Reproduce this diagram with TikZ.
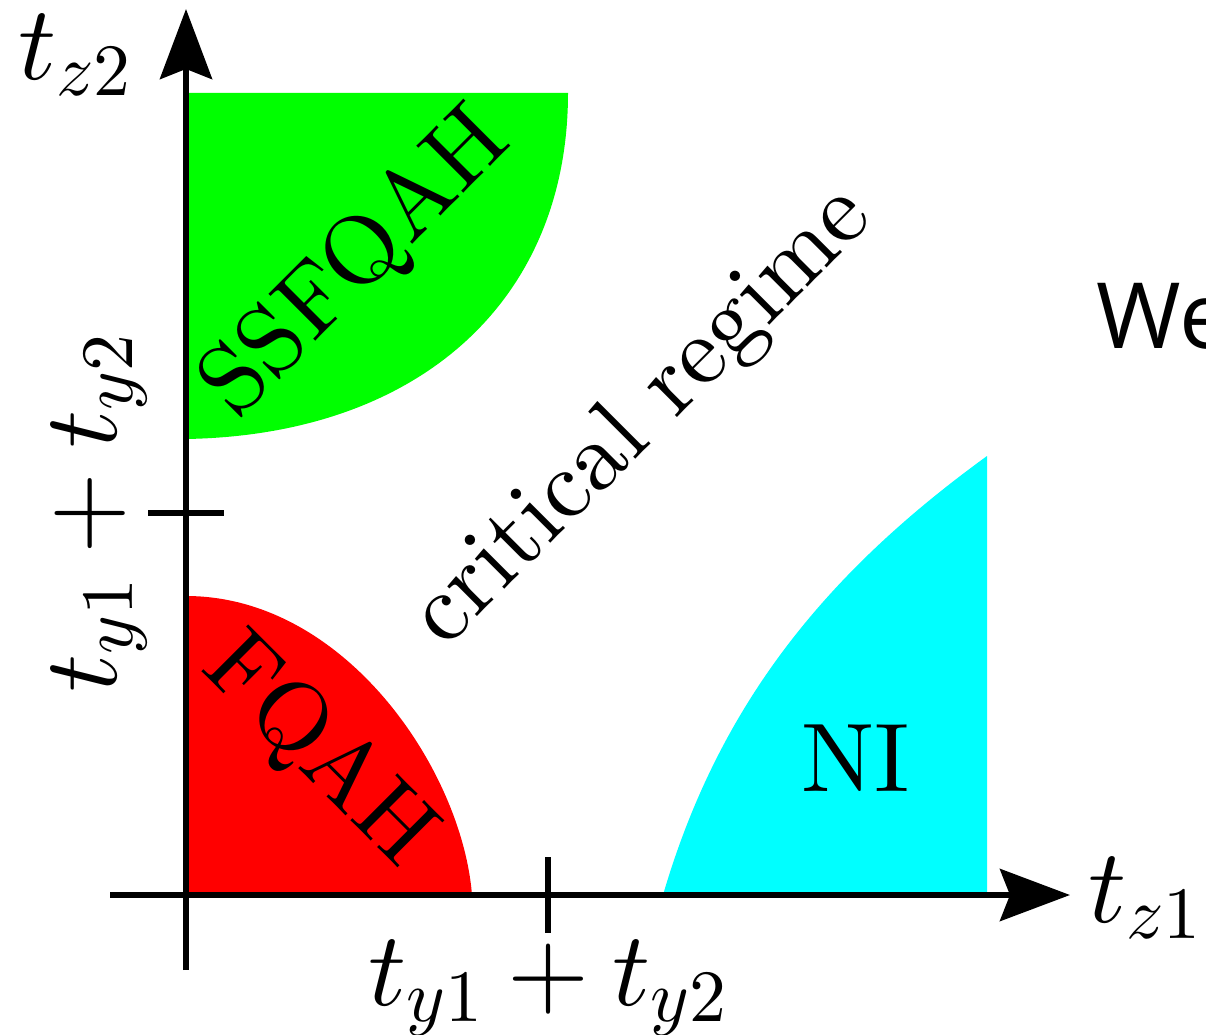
\RequirePackage{fix-cm}
\documentclass[tikz,border=0pt]{standalone}
\usepackage{fontspec}
\setmainfont{lmroman10-regular.otf}
\newfontfamily\wefont{Open Sans}
\DeclareFontShape{OML}{cmm}{m}{it}{<->cmmi10}{}
\DeclareFontShape{OT1}{cmr}{m}{n}{<->cmr10}{}
\usetikzlibrary{arrows.meta}
\definecolor{ssgreen}{RGB}{0,255,0}
\definecolor{fqred}{RGB}{255,0,0}
\definecolor{nicyan}{RGB}{0,255,255}
\tikzset{
  axisline/.style={line width=0.12cm, -{Stealth[length=1.4cm,width=1.04cm,inset=0.2cm]}},
  tickline/.style={line width=0.12cm},
  mathtext/.style={font=\fontsize{60}{66}\selectfont, inner sep=0pt},
  regiontext/.style={font=\fontsize{55.5}{60}\selectfont, inner sep=0pt},
}
\begin{document}
\begin{tikzpicture}[x=0.02cm, y=-0.02cm]
\useasboundingbox (0,0) rectangle (1206,1034);
% regions
\fill[ssgreen] (186,93) -- (568,93) .. controls (568,300) and (420,435) .. (186,439) -- cycle;
\fill[fqred] (186,895) -- (186,596) .. controls (345,596) and (462,770) .. (472,895) -- cycle;
\fill[nicyan] (663,895) .. controls (720,700) and (830,570) .. (987,456) -- (987,895) -- cycle;
% axes
\coordinate (ybot) at (186,970);
\coordinate (ytip) at (186,9);
\coordinate (xleft) at (110,895);
\coordinate (xtip) at (1070,895);
\draw[axisline] (ybot) -- (ytip);
\draw[axisline] (xleft) -- (xtip);
% ticks
\coordinate (yt1) at (148,513);
\coordinate (yt2) at (224,513);
\coordinate (xt1) at (548,857);
\coordinate (xt2) at (548,933);
\draw[tickline] (yt1) -- (yt2);
\draw[tickline] (xt1) -- (xt2);
% labels
\node[mathtext] (tz2) at (75,55) {$t_{z2}$};
\node[mathtext] (tz1) at (1145,898) {$t_{z1}$};
\node[mathtext] (xlab) at (548,988) {$t_{y1}+t_{y2}$};
\node[mathtext, rotate=90] (ylab) at (99,513) {$t_{y1}+t_{y2}$};
\node[regiontext, rotate=45] (ss) at (357,264) {SSFQAH};
\node[regiontext, rotate=45] (crit) at (643,418) {critical regime};
\node[regiontext, rotate=-45] (fq) at (318,752) {FQAH};
\node[regiontext] (ni) at (856,758) {NI};
\node[inner sep=0pt, anchor=base west, font=\wefont\fontsize{52}{56}\selectfont] (we) at (1096,348) {We};
\end{tikzpicture}
\end{document}
